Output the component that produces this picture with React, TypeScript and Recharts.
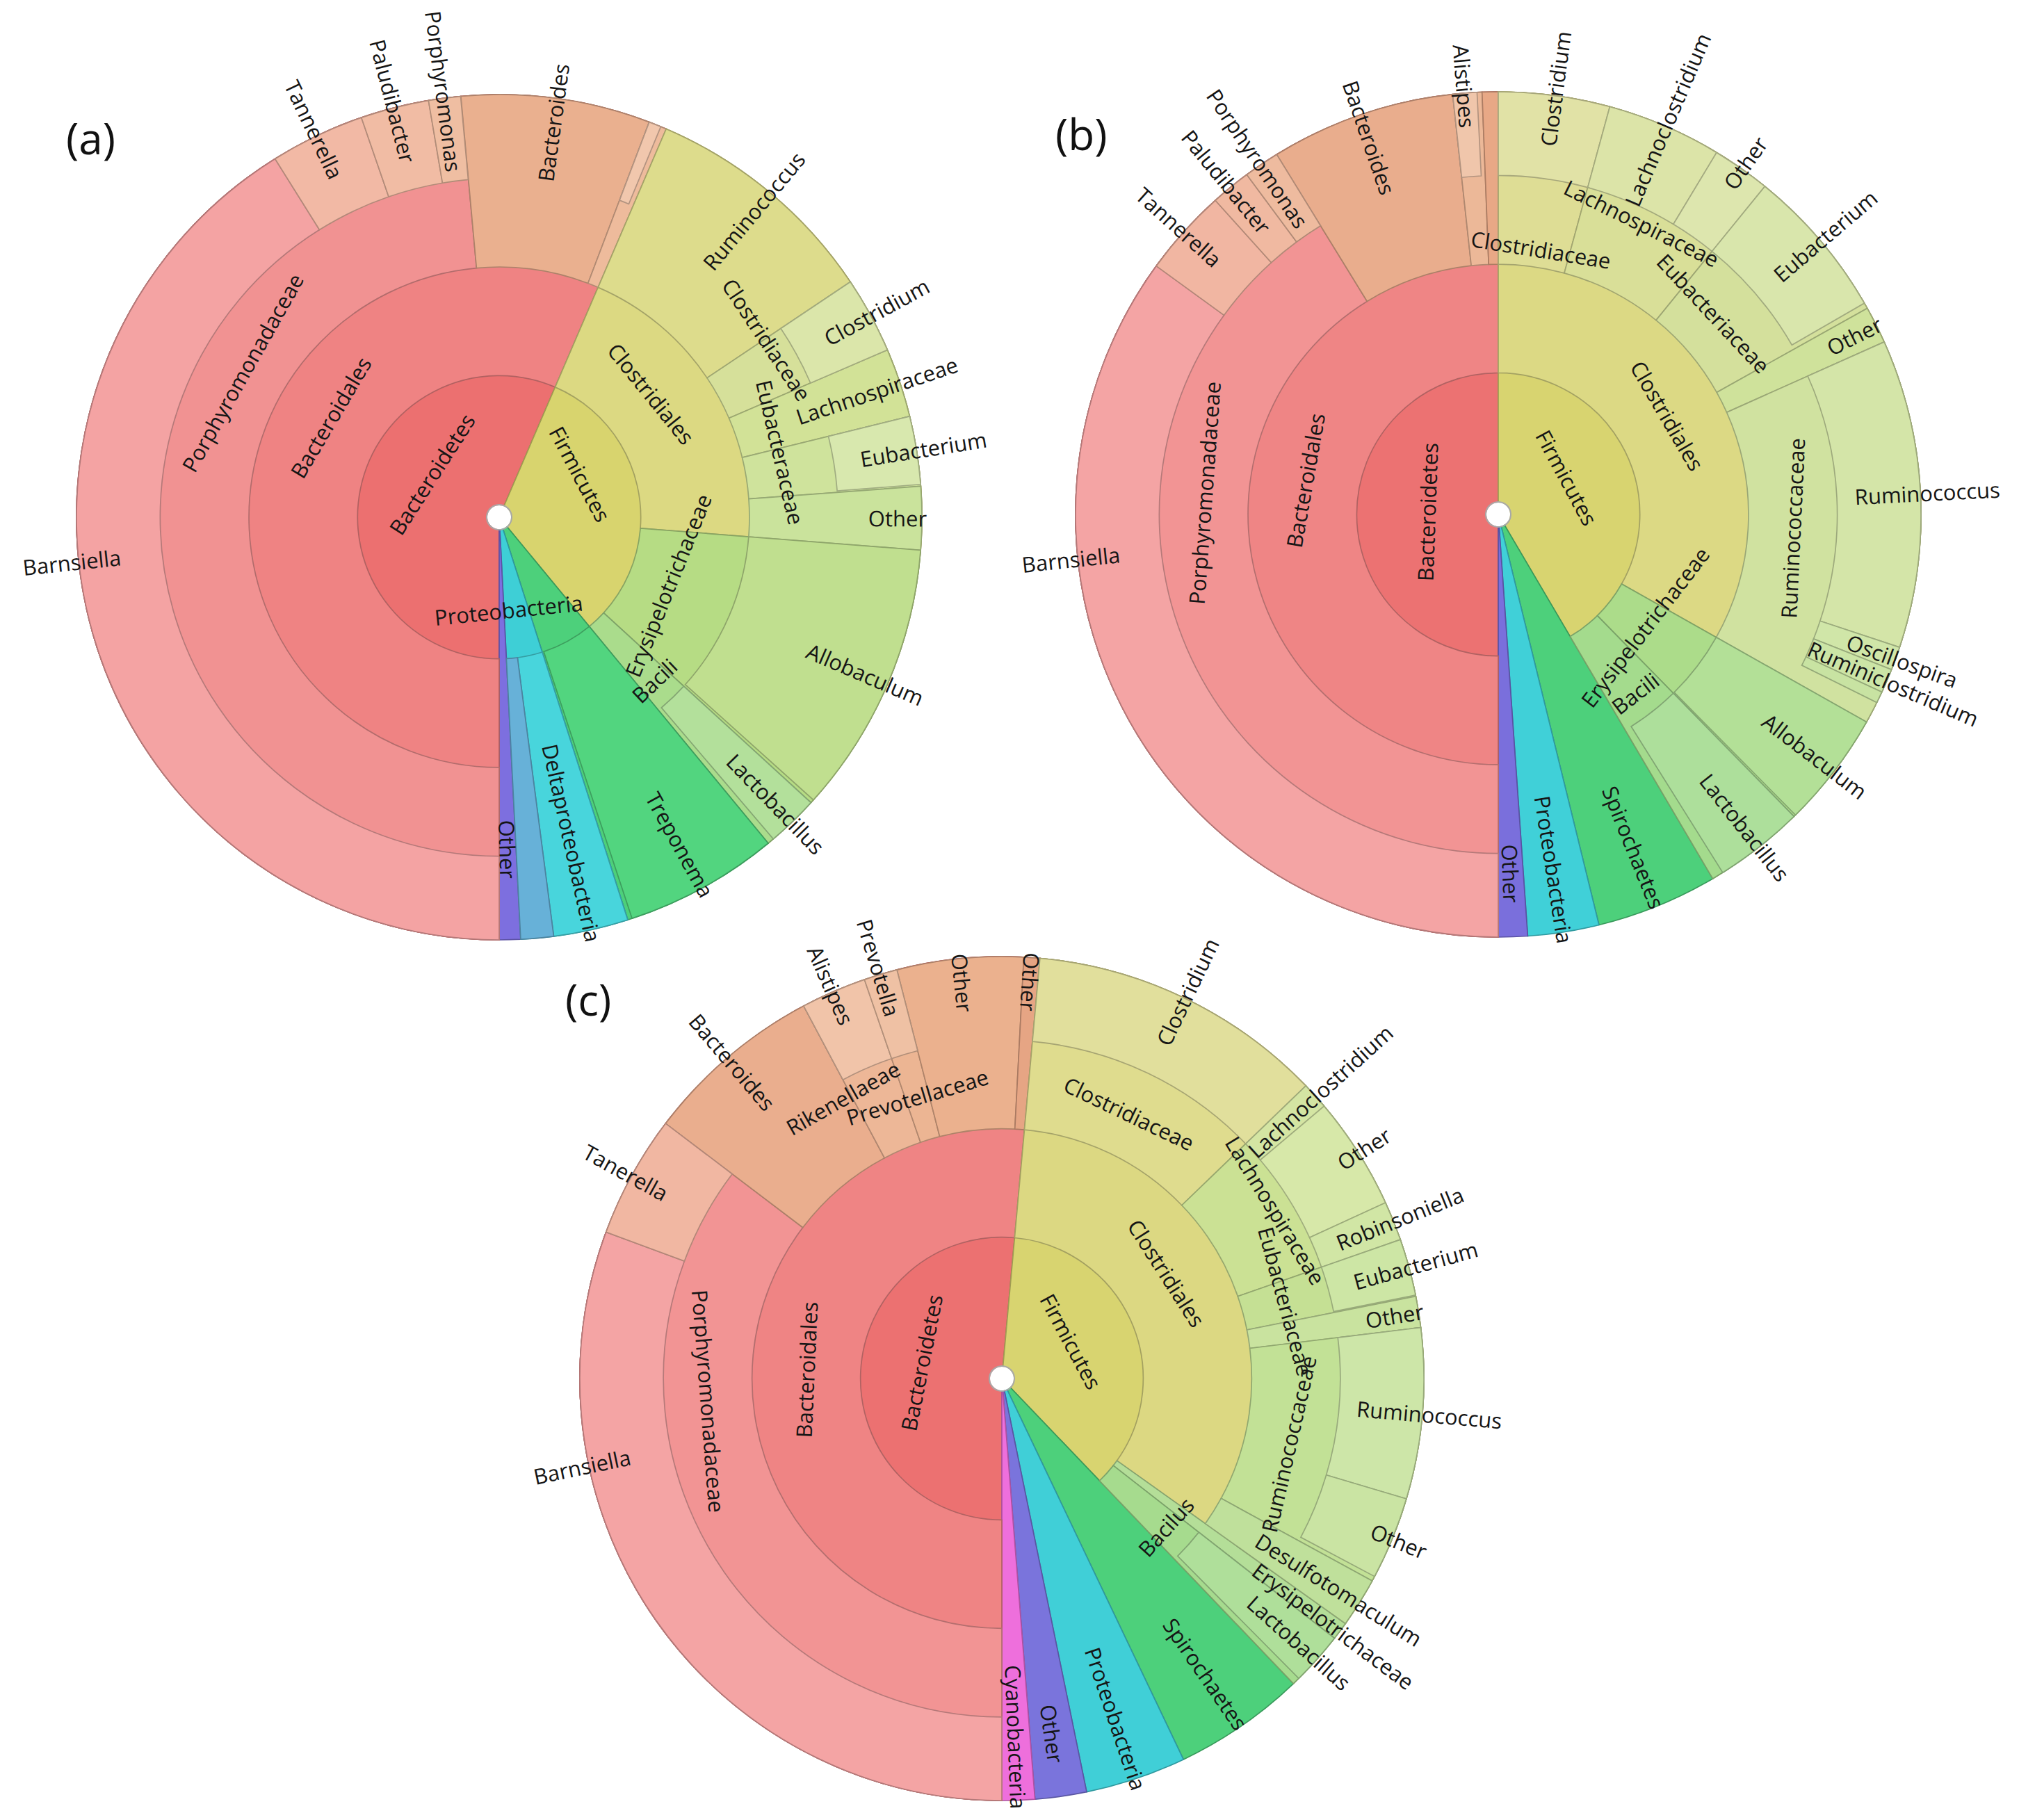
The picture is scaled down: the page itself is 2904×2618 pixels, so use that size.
import React from "react";
import { PieChart, Pie, Cell } from "recharts";

type Row = [string, string, number]; // id, parent id, share of reads (%)

// ---------------- (a) ----------------
const aPhylum: Row[] = [
  ["Bacteroidetes", "", 56.47],
  ["Firmicutes", "", 32.56],
  ["Spirochaetes", "", 6.06],
  ["Proteobacteria", "", 4.11],
  ["Other", "", 0.81],
];
const aOrder: Row[] = [
  ["Bacteroidales", "Bacteroidetes", 56.47],
  ["Clostridiales", "Firmicutes", 19.78],
  ["Erysipelotrichaceae", "Firmicutes", 10.56],
  ["Bacili", "Firmicutes", 2.22],
  ["Treponema", "Spirochaetes", 5.89],
  ["Deltaproteobacteria", "Proteobacteria", 2.86],
  ["Other#p", "Proteobacteria", 1.25],
];
const aFamily: Row[] = [
  ["Porphyromonadaceae", "Bacteroidales", 48.56],
  ["Bacteroides", "Bacteroidales", 7.22],
  ["Rikenellaceae", "Bacteroidales", 0.69],
  ["Ruminococcus", "Clostridiales", 9.14],
  ["Clostridiaceae", "Clostridiales", 2.92],
  ["Lachnospiraceae", "Clostridiales", 2.64],
  ["Eubacteraceae", "Clostridiales", 2.67],
  ["Other#c", "Clostridiales", 2.41],
  ["Allobaculum", "Erysipelotrichaceae", 10.42],
  ["Lactobacillus", "Bacili", 1.97],
];
const aGenus: Row[] = [
  ["Barnsiella", "Porphyromonadaceae", 41.11],
  ["Tannerella", "Porphyromonadaceae", 3.61],
  ["Paludibacter", "Porphyromonadaceae", 2.61],
  ["Porphyromonas", "Porphyromonadaceae", 1.22],
  ["Alistipes", "Rikenellaceae", 0.47],
  ["Clostridium", "Clostridiaceae", 2.92],
  ["Eubacterium", "Eubacteraceae", 2.6],
];

// ---------------- (b) ----------------
const bPhylum: Row[] = [
  ["Bacteroidetes", "", 50.0],
  ["Firmicutes", "", 41.53],
  ["Spirochaetes", "", 4.64],
  ["Proteobacteria", "", 2.72],
  ["Other", "", 1.11],
];
const bOrder: Row[] = [
  ["Bacteroidales", "Bacteroidetes", 50.0],
  ["Clostridiales", "Firmicutes", 33.17],
  ["Erysipelotrichaceae", "Firmicutes", 4.5],
  ["Bacili", "Firmicutes", 3.86],
];
const bFamily: Row[] = [
  ["Porphyromonadaceae", "Bacteroidales", 41.22],
  ["Bacteroides", "Bacteroidales", 7.06],
  ["Rikenellaceae", "Bacteroidales", 1.11],
  ["Other#b", "Bacteroidales", 0.61],
  ["Clostridiaceae", "Clostridiales", 4.25],
  ["Lachnospiraceae", "Clostridiales", 6.61],
  ["Eubacteriaceae", "Clostridiales", 6.03],
  ["Other#c", "Clostridiales", 1.42],
  ["Ruminococcaceae", "Clostridiales", 14.86],
  ["Allobaculum", "Erysipelotrichaceae", 4.42],
  ["Lactobacillus", "Bacili", 3.42],
];
const bGenus: Row[] = [
  ["Barnsiella", "Porphyromonadaceae", 35.0],
  ["Tannerella", "Porphyromonadaceae", 3.33],
  ["Paludibacter", "Porphyromonadaceae", 1.53],
  ["Porphyromonas", "Porphyromonadaceae", 1.36],
  ["Alistipes", "Rikenellaceae", 0.92],
  ["Clostridium", "Clostridiaceae", 4.25],
  ["Lachnoclostridium", "Lachnospiraceae", 4.39],
  ["Other#l", "Lachnospiraceae", 2.22],
  ["Eubacterium", "Eubacteriaceae", 5.81],
  ["Ruminococcus", "Ruminococcaceae", 11.78],
  ["Oscillospira", "Ruminococcaceae", 0.89],
  ["Ruminiclostridium", "Ruminococcaceae", 0.92],
  ["Other#r", "Ruminococcaceae", 0.44],
];

// ---------------- (c) ----------------
const cPhylum: Row[] = [
  ["Bacteroidetes", "", 51.44],
  ["Firmicutes", "", 36.42],
  ["Spirochaetes", "", 5.06],
  ["Proteobacteria", "", 3.86],
  ["Other", "", 1.97],
  ["Cyanobacteria", "", 1.25],
];
const cOrder: Row[] = [
  ["Bacteroidales", "Bacteroidetes", 51.44],
  ["Clostridiales", "Firmicutes", 33.42],
  ["Erysipelotrichaceae", "Firmicutes", 0.69],
  ["Bacilus", "Firmicutes", 2.31],
];
const cFamily: Row[] = [
  ["Porphyromonadaceae", "Bacteroidales", 35.33],
  ["Bacteroides", "Bacteroidales", 6.89],
  ["Rikenellaeae", "Bacteroidales", 2.5],
  ["Prevotellaceae", "Bacteroidales", 1.28],
  ["Other#b", "Bacteroidales", 4.83],
  ["Other#b2", "Bacteroidales", 0.61],
  ["Clostridiaceae", "Clostridiales", 11.36],
  ["Lachnospiraceae", "Clostridiales", 6.86],
  ["Eubacteriaceae", "Clostridiales", 2.22],
  ["Other#c", "Clostridiales", 1.19],
  ["Ruminococcaceae", "Clostridiales", 9.89],
  ["Desulfotomaculum", "Clostridiales", 1.9],
  ["Lactobacillus", "Bacilus", 2.03],
];
const cGenus: Row[] = [
  ["Barnsiella", "Porphyromonadaceae", 30.64],
  ["Tanerella", "Porphyromonadaceae", 4.69],
  ["Alistipes", "Rikenellaeae", 2.5],
  ["Prevotella", "Prevotellaceae", 1.28],
  ["Clostridium", "Clostridiaceae", 11.36],
  ["Lachnoclostridium", "Lachnospiraceae", 1.03],
  ["Other#l", "Lachnospiraceae", 4.33],
  ["Robinsoniella", "Lachnospiraceae", 1.5],
  ["Eubacterium", "Eubacteriaceae", 2.17],
  ["Ruminococcus", "Ruminococcaceae", 6.53],
  ["Other#r", "Ruminococcaceae", 3.17],
];

// ---------------- styles ----------------
const aColors: Record<string, string> = {
  Bacteroidetes: "#ec7070", Firmicutes: "#d8d46e", Spirochaetes: "#4dd07b", Proteobacteria: "#3ecfd6", Other: "#7d6fdf",
  Bacteroidales: "#ef8383", Clostridiales: "#dcd982", Erysipelotrichaceae: "#b6dc84", Bacili: "#aadc8c",
  Treponema: "#52d57f", Deltaproteobacteria: "#48d5dc", "Other#p": "#67b1d8",
  Porphyromonadaceae: "#f19292", Bacteroides: "#eab08f", Rikenellaceae: "#eebb9c",
  Ruminococcus: "#dddc8c", Clostridiaceae: "#d6e09a", Lachnospiraceae: "#d2e297", Eubacteraceae: "#cfe39c",
  "Other#c": "#cae39c", Allobaculum: "#c0df8f", Lactobacillus: "#b3e09b",
  Barnsiella: "#f4a3a3", Tannerella: "#f2b9a5", Paludibacter: "#f1bca4", Porphyromonas: "#efbea2",
  Alistipes: "#f1c7ad", Clostridium: "#dbe6aa", Eubacterium: "#d8e8ae",
};
const bColors: Record<string, string> = {
  Bacteroidetes: "#ec7272", Firmicutes: "#d8d470", Spirochaetes: "#4dd07b", Proteobacteria: "#40d0d8", Other: "#7a6fdc",
  Bacteroidales: "#ef8585", Clostridiales: "#dcd984", Erysipelotrichaceae: "#acdc8a", Bacili: "#a4db8d",
  Porphyromonadaceae: "#f29494", Bacteroides: "#e9ad8d", Rikenellaceae: "#ecb898", "Other#b": "#e8a886",
  Clostridiaceae: "#dedd95", Lachnospiraceae: "#d9df98", Eubacteriaceae: "#d4e09c", "Other#c": "#cfe29b",
  Ruminococcaceae: "#d0e2a0", Allobaculum: "#b3e097", Lactobacillus: "#addf9b",
  Barnsiella: "#f4a4a4", Tannerella: "#f1b6a2", Paludibacter: "#f0b9a1", Porphyromonas: "#eebb9f", Alistipes: "#f0c6ab",
  Clostridium: "#e1e2a6", Lachnoclostridium: "#dce4a8", "Other#l": "#dde6ae", Eubacterium: "#d9e6ac",
  Ruminococcus: "#d4e5a8", Oscillospira: "#d0e6a8", Ruminiclostridium: "#cce5a6", "Other#r": "#c8e3a2",
};
const cColors: Record<string, string> = {
  Bacteroidetes: "#ec7171", Firmicutes: "#d8d470", Spirochaetes: "#4dd07b", Proteobacteria: "#40cfd7", Other: "#7a74dc",
  Cyanobacteria: "#ee6fdc",
  Bacteroidales: "#ef8484", Clostridiales: "#dcd882", Erysipelotrichaceae: "#b4de98", Bacilus: "#a6db8e",
  Porphyromonadaceae: "#f29494", Bacteroides: "#eaae8e", Rikenellaeae: "#edb797", Prevotellaceae: "#ecb593",
  "Other#b": "#ebb18e", "Other#b2": "#e6a584",
  Clostridiaceae: "#dfdc8e", Lachnospiraceae: "#cbe194", Eubacteriaceae: "#c5e094", "Other#c": "#c9e39f",
  Ruminococcaceae: "#c2e196", Desulfotomaculum: "#bfe09b", Lactobacillus: "#afdf9a",
  Barnsiella: "#f4a4a4", Tanerella: "#f1b7a2", Alistipes: "#f1c4a9", Prevotella: "#efc1a4",
  Clostridium: "#e1df9c", Lachnoclostridium: "#d4e5a3", "Other#l": "#d7e8a9", Robinsoniella: "#d1e6a5",
  Eubacterium: "#cde6a5", Ruminococcus: "#cde6a8", "Other#r": "#cae4a3",
};

const W = 2904;
const H = 2618;
const FONT = "'Open Sans', sans-serif";
const LABEL_SIZE = 31;
const LEAF_OFF = [-91, -70, -35, 10];

interface ChartCfg {
  key: string;
  cx: number;
  cy: number;
  R: number;
  levels: Row[][];
  colors: Record<string, string>;
  hidden: string[];
  flip: string[];
  shift: Record<string, number>;
  rad: Record<string, number>;
}

const CHARTS: ChartCfg[] = [
  {
    key: "a", cx: 718, cy: 744, R: 608,
    levels: [aPhylum, aOrder, aFamily, aGenus], colors: aColors,
    hidden: ["Spirochaetes", "Other#p", "Rikenellaceae", "Alistipes"], flip: [],
    shift: { Bacteroidetes: 21, Bacteroidales: 19, Porphyromonadaceae: 32, Barnsiella: 10, Firmicutes: -20, Clostridiales: -8, Proteobacteria: 4.5, Clostridiaceae: -5, Eubacteraceae: -4, Erysipelotrichaceae: -1.5 },
    rad: { Bacteroidetes: 115, Firmicutes: 132, Proteobacteria: 134, Bacili: 324, Clostridiaceae: 462, Eubacteraceae: 415, Deltaproteobacteria: 480, Other: 478, Erysipelotrichaceae: 262 },
  },
  {
    key: "b", cx: 2155, cy: 740, R: 608,
    levels: [bPhylum, bOrder, bFamily, bGenus], colors: bColors,
    hidden: ["Rikenellaceae", "Other#b", "Other#r"], flip: [],
    shift: { Bacteroidetes: 2, Bacteroidales: 10, Porphyromonadaceae: 20, Barnsiella: 21, Firmicutes: -13, Clostridiaceae: 1.5, Lachnospiraceae: -1, Eubacteriaceae: -3 },
    rad: { Bacili: 324, Bacteroidetes: 102, Firmicutes: 112, Clostridiaceae: 386, Lachnospiraceae: 467, Erysipelotrichaceae: 266 },
  },
  {
    key: "c", cx: 1441, cy: 1983, R: 607,
    levels: [cPhylum, cOrder, cFamily, cGenus], colors: cColors,
    hidden: [], flip: ["Other#b2"],
    shift: { Bacteroidetes: 8.6, Porphyromonadaceae: 22, Barnsiella: 23, Firmicutes: -9, Clostridiales: -8, Rikenellaeae: -6, Ruminococcaceae: 2 },
    rad: { Bacilus: 318, Rikenellaeae: 464, Lachnospiraceae: 462, Erysipelotrichaceae: 595, Firmicutes: 113, Bacteroides: 598 },
  },
];

type Entry = { id: string; value: number; gap: boolean; leaf: boolean; depth: number };

function buildRings(levels: Row[][]): Entry[][] {
  const rings: Entry[][] = [];
  levels.forEach((rows, d) => {
    const next = levels[d + 1] ?? [];
    const isLeaf = (id: string) => !next.some((r) => r[1] === id);
    if (d === 0) {
      rings.push(rows.map((r) => ({ id: r[0], value: r[2], gap: false, leaf: isLeaf(r[0]), depth: 0 })));
      return;
    }
    const out: Entry[] = [];
    rings[d - 1].forEach((p, i) => {
      if (p.gap) {
        out.push({ id: `gap-${d}-${i}`, value: p.value, gap: true, leaf: false, depth: d });
        return;
      }
      const kids = rows.filter((r) => r[1] === p.id);
      let sum = 0;
      kids.forEach((k) => {
        sum += k[2];
        out.push({ id: k[0], value: k[2], gap: false, leaf: isLeaf(k[0]), depth: d });
      });
      const rest = p.value - sum;
      if (rest > 1e-6) out.push({ id: `gap-${d}-${i}`, value: rest, gap: true, leaf: false, depth: d });
    });
    rings.push(out);
  });
  return rings;
}

function shade(hex: string, f: number) {
  const n = parseInt(hex.slice(1), 16);
  const r = Math.round(((n >> 16) & 255) * f);
  const g = Math.round(((n >> 8) & 255) * f);
  const b = Math.round((n & 255) * f);
  return `rgb(${r},${g},${b})`;
}

function ringInner(R: number) {
  return [0, R * 0.335, R * 0.592, R * 0.802];
}

function makeLabel(cfg: ChartCfg, d: number, inner: number[]) {
  return (props: any) => {
    const p = props.payload ?? props;
    const id: string | undefined = p.id ?? props.id;
    if (!id || p.gap || id.startsWith("gap-") || cfg.hidden.includes(id)) return <g />;
    let th = 90 - Number(props.midAngle) + (cfg.shift[id] ?? 0);
    th = ((th % 360) + 360) % 360;
    let r: number;
    let rot: number;
    if (p.leaf) {
      r = cfg.rad[id] ?? cfg.R + LEAF_OFF[d];
      let right = th <= 180;
      if (cfg.flip.includes(id)) right = !right;
      rot = right ? th - 90 : th - 270;
    } else {
      const ro = d < 3 ? inner[d + 1] : cfg.R;
      r = cfg.rad[id] ?? (d === 0 ? ro * 0.58 : (inner[d] + ro) / 2);
      rot = th > 90 && th < 270 ? th - 180 : th;
    }
    const t = (th * Math.PI) / 180;
    const x = cfg.cx + r * Math.sin(t);
    const y = cfg.cy - r * Math.cos(t);
    return (
      <text
        x={x}
        y={y}
        transform={`rotate(${rot.toFixed(2)} ${x.toFixed(2)} ${y.toFixed(2)})`}
        textAnchor="middle"
        dominantBaseline="central"
        fontFamily={FONT}
        fontSize={LABEL_SIZE}
        fill="#151515"
      >
        {id.split("#")[0]}
      </text>
    );
  };
}

export default function App() {
  const sectorPies: React.ReactNode[] = [];
  const labelPies: React.ReactNode[] = [];
  CHARTS.forEach((cfg) => {
    const rings = buildRings(cfg.levels);
    const inner = ringInner(cfg.R);
    rings.forEach((ring, d) => {
      sectorPies.push(
        <Pie
          key={`${cfg.key}-s${d}`}
          data={ring}
          dataKey="value"
          nameKey="id"
          cx={cfg.cx}
          cy={cfg.cy}
          innerRadius={inner[d]}
          outerRadius={cfg.R}
          startAngle={-90}
          endAngle={-450}
          isAnimationActive={false}
          label={false}
          labelLine={false}
        >
          {ring.map((e, i) =>
            e.gap ? (
              <Cell key={i} fill="none" stroke="none" />
            ) : (
              <Cell
                key={i}
                fill={cfg.colors[e.id] ?? "#cccccc"}
                stroke={shade(cfg.colors[e.id] ?? "#cccccc", 0.74)}
                strokeWidth={1.7}
              />
            )
          )}
        </Pie>
      );
      labelPies.push(
        <Pie
          key={`${cfg.key}-l${d}`}
          data={ring}
          dataKey="value"
          nameKey="id"
          cx={cfg.cx}
          cy={cfg.cy}
          innerRadius={inner[d]}
          outerRadius={cfg.R}
          startAngle={-90}
          endAngle={-450}
          fill="none"
          stroke="none"
          isAnimationActive={false}
          labelLine={false}
          label={makeLabel(cfg, d, inner)}
        />
      );
    });
    sectorPies.push(
      <Pie
        key={`${cfg.key}-dot`}
        data={[{ v: 1 }]}
        dataKey="v"
        cx={cfg.cx}
        cy={cfg.cy}
        innerRadius={0}
        outerRadius={17}
        fill="#ffffff"
        stroke="none"
        isAnimationActive={false}
      />,
      <Pie
        key={`${cfg.key}-dotring`}
        data={[{ v: 1 }]}
        dataKey="v"
        cx={cfg.cx}
        cy={cfg.cy}
        innerRadius={17}
        outerRadius={19}
        fill="#a8a8a8"
        stroke="none"
        isAnimationActive={false}
      />
    );
  });

  return (
    <div style={{ position: "absolute", left: 0, top: 0, width: W, height: H, background: "#ffffff" }}>
      <PieChart width={W} height={H} margin={{ top: 0, right: 0, bottom: 0, left: 0 }}>
        {sectorPies}
        {labelPies}
      </PieChart>
      <svg width={W} height={H} style={{ position: "absolute", left: 0, top: 0, pointerEvents: "none" }}>
        <text x={95} y={222} fontFamily={FONT} fontSize={62} fill="#111">(a)</text>
        <text x={1518} y={216} fontFamily={FONT} fontSize={62} fill="#111">(b)</text>
        <text x={813} y={1461} fontFamily={FONT} fontSize={62} fill="#111">(c)</text>
      </svg>
    </div>
  );
}
